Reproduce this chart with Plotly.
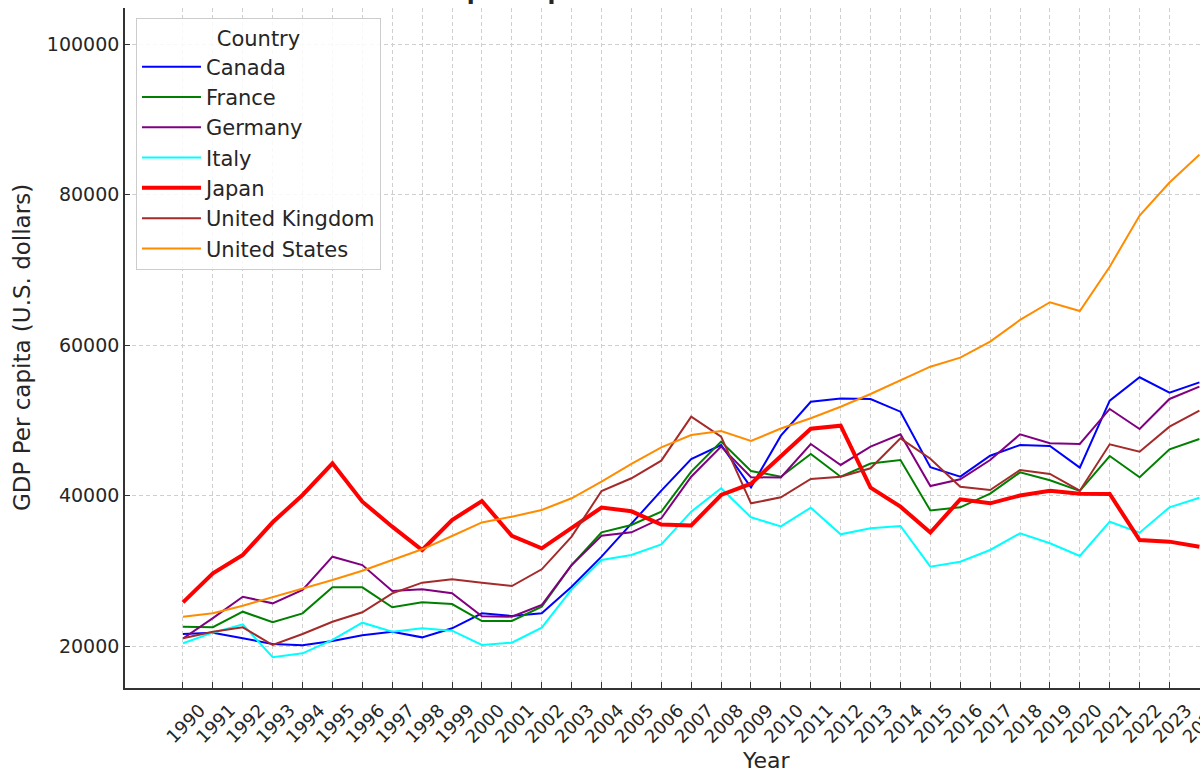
import plotly.graph_objects as go

# GDP per capita (U.S. dollars)
years = list(range(1990, 2025))

canada = [21600, 21770, 21020, 20270, 20090, 20660, 21420, 21900, 21150, 22350,
          24340, 23990, 24340, 27880, 31870, 36300, 40640, 44850, 46710, 41090,
          47950, 52460, 52900, 52830, 51140, 43750, 42500, 45290, 46710, 46580,
          43700, 52600, 55710, 53660, 55040]
france = [22570, 22500, 24560, 23150, 24340, 27800, 27800, 25140, 25810, 25580,
          23320, 23320, 25230, 30760, 35110, 36080, 37850, 43170, 47160, 43260,
          42500, 45520, 42500, 44240, 44720, 38020, 38430, 40250, 43080, 42020,
          40620, 45250, 42420, 46140, 47510]
germany = [21000, 23700, 26550, 25670, 27440, 31870, 30760, 27310, 27530, 27000,
           23950, 23900, 25450, 30760, 34660, 35110, 36970, 42500, 46490, 42420,
           42390, 46850, 44060, 46490, 48130, 41260, 42150, 44720, 48130, 46940,
           46850, 51500, 48840, 52830, 54460]
italy = [20360, 21770, 22880, 18500, 19030, 20800, 23100, 21900, 22350, 22040,
         20130, 20440, 22440, 27530, 31430, 32090, 33510, 37850, 40960, 37100,
         35900, 38380, 34840, 35640, 35950, 30540, 31200, 32760, 34980, 33650,
         31960, 36520, 35060, 38430, 39710]
japan = [25800, 29660, 32100, 36440, 40070, 44280, 39180, 35860, 32760, 36745,
         39270, 34640, 32980, 35640, 38400, 37900, 36150, 36020, 40070, 41570,
         45160, 48880, 49280, 41040, 38520, 35080, 39490, 38960, 40000, 40640,
         40240, 40200, 34090, 33870, 33200]
united_kingdom = [21020, 21900, 22480, 20130, 21600, 23230, 24480, 27000, 28420, 28860,
                  28420, 27970, 30190, 34530, 40600, 42290, 44630, 50480, 47820, 38960,
                  39760, 42190, 42500, 43620, 47600, 44880, 41170, 40730, 43390, 42860,
                  40640, 46800, 45820, 49150, 51270]
united_states = [23900, 24340, 25360, 26470, 27660, 28770, 30010, 31430, 32850, 34620,
                 36420, 37190, 38070, 39630, 41840, 44190, 46400, 48040, 48570, 47245,
                 48900, 50260, 51800, 53490, 55350, 57120, 58320, 60450, 63330, 65680,
                 64520, 70400, 77200, 81600, 85300]

countries = ["Canada", "France", "Germany", "Italy", "Japan",
             "United Kingdom", "United States"]
series = [canada, france, germany, italy, japan, united_kingdom, united_states]
colors = ["#0000ff", "#008000", "#800080", "#00ffff", "#ff0000",
          "#a52a2a", "#ff8c00"]

font = "DejaVu Sans"
ink = "#262626"

fig = go.Figure()
for name, vals, col in zip(countries, series, colors):
    width = 4 if name == "Japan" else 2
    fig.add_trace(go.Scatter(x=years, y=vals, mode="lines", name=name,
                             legendgroup=name,
                             line=dict(color=col, width=width)))

fig.update_xaxes(
    range=[1988.06, 2024.02],
    tickmode="array", tickvals=years, ticktext=[str(y) for y in years],
    tickangle=-45, tickfont=dict(family=font, size=18, color=ink),
    ticks="inside", ticklen=6, tickwidth=1.2, tickcolor="#333333",
    ticklabelshift=17, ticklabelstandoff=3, ticklabeloverflow="allow",
    showline=True, linecolor="#333333", linewidth=1.6,
    showgrid=True, gridcolor="#cfcfcf", gridwidth=1, griddash="4px,3px",
    zeroline=False, automargin=False,
)
fig.update_yaxes(
    range=[14419, 104784],
    tickmode="array", tickvals=[20000, 40000, 60000, 80000, 100000],
    ticktext=["20000", "40000", "60000", "80000", "100000"],
    tickfont=dict(family=font, size=19, color=ink),
    ticks="inside", ticklen=5, tickwidth=1.2, tickcolor="#333333",
    showline=True, linecolor="#333333", linewidth=1.6,
    showgrid=True, gridcolor="#cfcfcf", gridwidth=1, griddash="4px,3px",
    zeroline=False, automargin=False,
)

fig.add_annotation(text="GDP Per capita (U.S. dollars)", textangle=-90,
                   xref="paper", yref="paper", x=-0.0958, y=0.5,
                   xanchor="center", yanchor="middle", showarrow=False,
                   font=dict(family=font, size=23, color=ink))
fig.add_annotation(text="Year", xref="paper", yref="paper", x=0.597, y=-0.1059,
                   xanchor="center", yanchor="middle", showarrow=False,
                   font=dict(family=font, size=22, color=ink))
# title sits mostly above the visible area, as in the cropped reference
fig.add_annotation(text="<b>GDP per capita of G7 Countries</b>",
                   xref="paper", yref="paper", x=0.2577, y=1.003,
                   xanchor="left", yanchor="bottom", showarrow=False,
                   font=dict(family=font, size=23, color=ink))

fig.update_layout(
    width=1200, height=775,
    margin=dict(l=125, r=0, t=8, b=87),
    paper_bgcolor="white", plot_bgcolor="white",
    font=dict(family=font, color=ink),
    legend=dict(
        x=0.0102, y=0.985, xanchor="left", yanchor="top",
        bgcolor="rgba(255,255,255,0.85)", bordercolor="#cccccc", borderwidth=1,
        font=dict(family=font, size=21, color=ink),
        title=dict(text="Country", side="top center",
                   font=dict(family=font, size=21, color=ink)),
        itemwidth=59,
        tracegroupgap=0,
    ),
)

# drop the browser's default body margin so the figure sits at the page corner
fig.write_html("out.html", config={"displayModeBar": False},
               post_script="document.body.style.margin='0';")
